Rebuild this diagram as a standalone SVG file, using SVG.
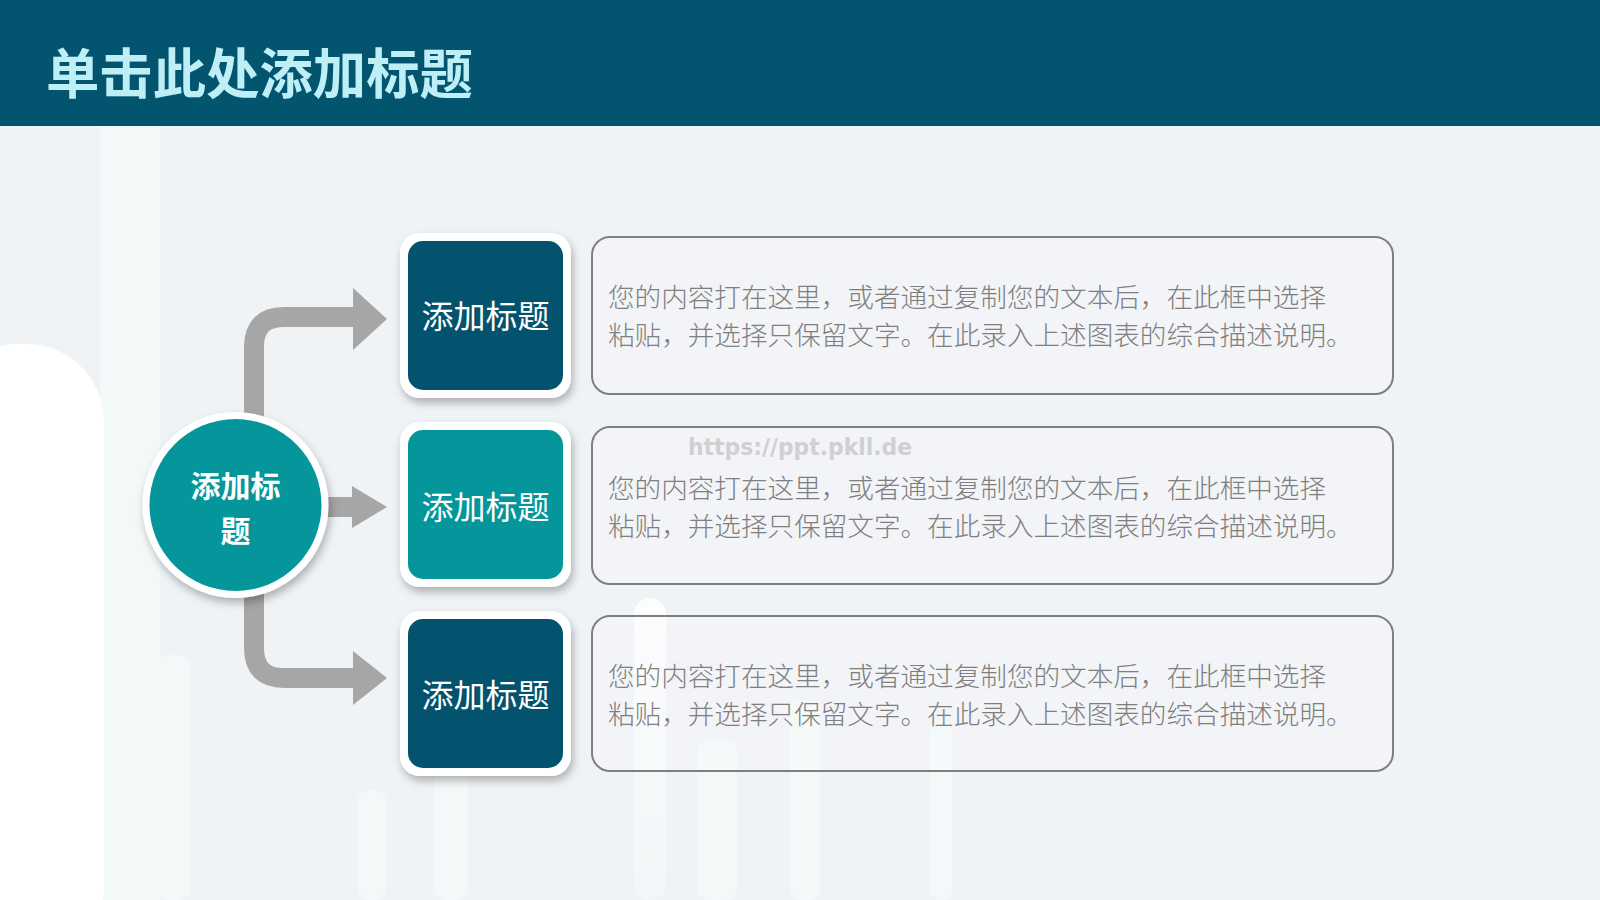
<svg xmlns="http://www.w3.org/2000/svg" width="1600" height="900" viewBox="0 0 1600 900">
  <defs>
    <filter id="shadow" x="-20%" y="-20%" width="140%" height="150%">
      <feDropShadow dx="2" dy="5" stdDeviation="4" flood-color="#000" flood-opacity="0.28"/>
    </filter>
    <linearGradient id="barg" x1="0" y1="0" x2="0" y2="1">
      <stop offset="0" stop-color="#ffffff" stop-opacity="0.85"/>
      <stop offset="1" stop-color="#f4fafa" stop-opacity="0.5"/>
    </linearGradient>
  </defs>
  <style>
    .bg { fill: #F0F3F6; }
    .faint { fill: #F3F8F8; }
    .white-bar { fill: url(#barg); }
    .frame { fill: #FFFFFF; filter: url(#shadow); }
    .dark { fill: #03536F; }
    .teal { fill: #05969C; }
    .box-title { font-family: "Noto Sans CJK SC", sans-serif; font-size: 32px; font-weight: 400; fill: #FFFFFF; text-anchor: middle; }
    .desc { fill: #FFFFFF; fill-opacity: 0.15; stroke: #7F7F7F; stroke-width: 2; }
    .desc-text { font-family: "Noto Sans CJK SC", sans-serif; font-size: 26.6px; font-weight: 300; fill: #7F7F7F; }
    .conn { fill: none; stroke: #A6A6A6; stroke-width: 20; }
    .head { fill: #A6A6A6; }
  </style>

  <!-- background -->
  <rect class="bg" x="0" y="0" width="1600" height="900"/>
  <g id="background-decor">
    <rect class="faint" x="100" y="126" width="60" height="774"/>
    <rect class="faint" x="157" y="655" width="34" height="245" rx="12"/>
    <rect class="faint" x="358" y="790" width="28" height="110" rx="10"/>
    <rect class="faint" x="434" y="640" width="34" height="260" rx="12"/>
    <rect class="white-bar" x="634" y="598" width="32" height="302" rx="16"/>
    <rect class="faint" x="697" y="740" width="40" height="160" rx="12"/>
    <rect class="faint" x="790" y="700" width="30" height="200" rx="10"/>
    <rect class="faint" x="930" y="720" width="22" height="180" rx="10"/>
    <rect x="-60" y="344" width="164" height="620" rx="78" fill="#FFFFFF"/>
  </g>

  <!-- header -->
  <g id="header">
    <rect x="0" y="0" width="1600" height="126" fill="#02546F"/>
    <text x="46" y="94" font-family="Noto Sans CJK SC, sans-serif" font-size="54" font-weight="700" fill="#BEEEF6" textLength="427" lengthAdjust="spacingAndGlyphs">单击此处添加标题</text>
  </g>

  <!-- connectors -->
  <g id="connectors">
    <path class="conn" d="M254,430 V347 Q254,317 284,317 H356"/>
    <polygon class="head" points="353,288 387,319 353,350"/>
    <path class="conn" d="M300,507 H354"/>
    <polygon class="head" points="352,486 387,507 352,528"/>
    <path class="conn" d="M254,580 V648 Q254,678 284,678 H356"/>
    <polygon class="head" points="353,651 387,678 353,705"/>
  </g>

  <!-- central circle -->
  <g id="center-node">
    <circle cx="235.5" cy="505" r="93" fill="#FFFFFF" filter="url(#shadow)"/>
    <circle cx="235.5" cy="505" r="86" class="teal"/>
    <text x="235.5" y="497" font-family="Noto Sans CJK SC, sans-serif" font-size="30" font-weight="700" fill="#FFFFFF" text-anchor="middle">添加标</text>
    <text x="235.5" y="542" font-family="Noto Sans CJK SC, sans-serif" font-size="30" font-weight="700" fill="#FFFFFF" text-anchor="middle">题</text>
  </g>

  <!-- title boxes -->
  <g id="title-box-1">
    <rect class="frame" x="400" y="233" width="171" height="165" rx="20"/>
    <rect class="dark" x="408" y="241" width="155" height="149" rx="15"/>
    <text class="box-title" x="485.5" y="328">添加标题</text>
  </g>
  <g id="title-box-2">
    <rect class="frame" x="400" y="422" width="171" height="165" rx="20"/>
    <rect class="teal" x="408" y="430" width="155" height="149" rx="15"/>
    <text class="box-title" x="485.5" y="519">添加标题</text>
  </g>
  <g id="title-box-3">
    <rect class="frame" x="400" y="611" width="171" height="165" rx="20"/>
    <rect class="dark" x="408" y="619" width="155" height="149" rx="15"/>
    <text class="box-title" x="485.5" y="707">添加标题</text>
  </g>

  <!-- description boxes -->
  <g id="desc-box-1">
    <rect class="desc" x="592" y="237" width="801" height="157" rx="18"/>
    <text class="desc-text" x="608" y="307">您的内容打在这里，或者通过复制您的文本后，在此框中选择</text>
    <text class="desc-text" x="608" y="345">粘贴，并选择只保留文字。在此录入上述图表的综合描述说明。</text>
  </g>
  <g id="desc-box-2">
    <rect class="desc" x="592" y="427" width="801" height="157" rx="18"/>
    <text class="desc-text" x="608" y="498">您的内容打在这里，或者通过复制您的文本后，在此框中选择</text>
    <text class="desc-text" x="608" y="536">粘贴，并选择只保留文字。在此录入上述图表的综合描述说明。</text>
  </g>
  <g id="desc-box-3">
    <rect class="desc" x="592" y="616" width="801" height="155" rx="18"/>
    <text class="desc-text" x="608" y="686">您的内容打在这里，或者通过复制您的文本后，在此框中选择</text>
    <text class="desc-text" x="608" y="724">粘贴，并选择只保留文字。在此录入上述图表的综合描述说明。</text>
  </g>

  <!-- watermark -->
  <text x="688" y="455" font-family="DejaVu Sans, sans-serif" font-size="23" font-weight="700" fill="#D0D0D0" textLength="224" lengthAdjust="spacingAndGlyphs">https://ppt.pkll.de</text>
</svg>
